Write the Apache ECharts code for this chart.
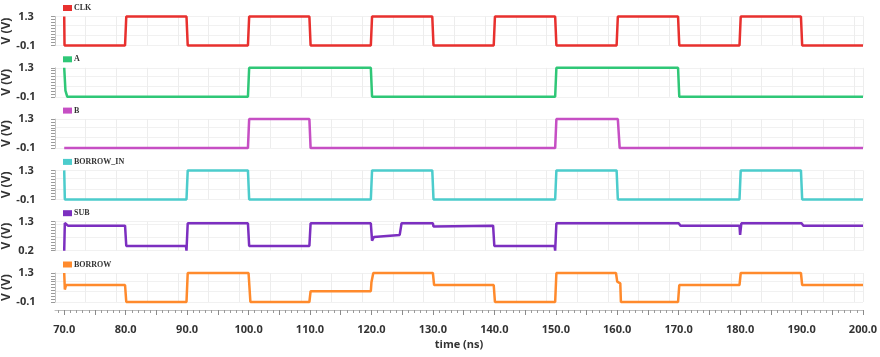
<!DOCTYPE html>
<html><head><meta charset="utf-8">
<script src="https://cdn.jsdelivr.net/npm/echarts@6/dist/echarts.min.js"></script>
<style>html,body{margin:0;padding:0;background:#fff}#c{width:880px;height:357px}</style>
</head><body><div id="c"></div>
<script>
// ---- data ----
const signalNames = ['CLK', 'A', 'B', 'BORROW_IN', 'SUB', 'BORROW'];
const signalColors = ['#e8302e', '#2fc777', '#c64fc4', '#4ccccc', '#7c2fc0', '#ff8a2c'];
const yMins = [-0.1, -0.1, -0.1, -0.1, 0.2, -0.1];
const yMaxs = [1.3, 1.3, 1.3, 1.3, 1.3, 1.3];

const clk = [[70,1.3],[70.05,-0.1],[79.9,-0.1],[80.1,1.3],[89.9,1.3],[90.1,-0.1],[99.9,-0.1],[100.1,1.3],[109.9,1.3],[110.1,-0.1],
  [119.9,-0.1],[120.1,1.3],[129.9,1.3],[130.1,-0.1],[139.9,-0.1],[140.1,1.3],[149.9,1.3],[150.1,-0.1],[159.9,-0.1],[160.1,1.3],
  [169.9,1.3],[170.1,-0.1],[179.9,-0.1],[180.1,1.3],[189.9,1.3],[190.1,-0.1],[200,-0.1]];
const sigA = [[70,1.3],[70.2,0.2],[70.5,-0.1],[99.9,-0.1],[100.1,1.3],[119.9,1.3],[120.1,-0.1],[149.9,-0.1],[150.1,1.3],
  [169.9,1.3],[170.1,-0.1],[200,-0.1]];
const sigB = [[70,-0.1],[99.9,-0.1],[100.1,1.3],[109.9,1.3],[110.1,-0.1],[149.9,-0.1],[150.1,1.3],[160.1,1.3],[160.4,-0.1],[200,-0.1]];
const borrowIn = [[70,1.3],[70.1,-0.1],[89.9,-0.1],[90.1,1.3],[99.9,1.3],[100.1,-0.1],[119.9,-0.1],[120.1,1.3],[129.9,1.3],[130.1,-0.1],
  [149.9,-0.1],[150.1,1.3],[159.9,1.3],[160.1,-0.1],[179.9,-0.1],[180.1,1.3],[189.9,1.3],[190.1,-0.1],[200,-0.1]];
const sub = [[70,0.2],[70.1,1.25],[70.4,1.18],[70.6,1.15],[79.9,1.15],[80.1,0.38],[89.8,0.38],[89.9,0.2],[90.1,1.24],[99.9,1.24],
  [100.1,0.38],[109.9,0.38],[110.1,1.24],[119.9,1.24],[120.1,0.58],[120.4,0.72],[124.6,0.8],[124.9,1.24],[130,1.24],[130.1,1.12],
  [130.3,1.15],[139.8,1.15],[140,0.38],[149.8,0.38],[149.9,0.2],[150.1,1.24],[170,1.24],[170.3,1.15],[179.9,1.15],[180,0.8],
  [180.1,0.8],[180.2,1.24],[190,1.24],[190.3,1.15],[200,1.15]];
const borrow = [[70,1.3],[70.1,0.5],[70.3,0.72],[79.9,0.72],[80.1,-0.1],[89.9,-0.1],[90.1,1.3],[100,1.3],[100.3,-0.1],[109.9,-0.1],
  [110.1,0.42],[119.9,0.42],[120,0.85],[120.2,0.9],[120.3,1.3],[130,1.3],[130.2,0.72],[139.9,0.72],[140.1,-0.1],[149.9,-0.1],
  [150.1,1.3],[159.8,1.3],[160,0.88],[160.5,0.8],[160.6,-0.1],[169.9,-0.1],[170.1,0.72],[179.9,0.72],[180.1,1.3],[189.9,1.3],
  [190.1,0.72],[200,0.72]];
const seriesData = [clk, sigA, sigB, borrowIn, sub, borrow];

const xLabelValues = [70,80,90,100,110,120,130,140,150,160,170,180,190,200];
const xMidTickValues = [70,75,80,85,90,95,100,105,110,115,120,125,130,135,140,145,150,155,160,165,170,175,180,185,190,195,200];
const X_MIN = 68.5, X_MAX = 200;

// ---- layout ----
const PANEL_TOP0 = 16.5, PANEL_STEP = 51.3, PANEL_H = 29;
const fontSans = 'Open Sans';
const grids = [], xAxes = [], yAxes = [], series = [], legends = [];
const minorX = [];
for (let t = 69; t <= 200; t++) minorX.push(t);

signalNames.forEach((name, i) => {
  const top = PANEL_TOP0 + PANEL_STEP * i;
  grids.push({ left: 55, right: 17, top: top, height: PANEL_H, outerBoundsMode: 'none', containLabel: false });
  xAxes.push({
    gridIndex: i, type: 'value', min: X_MIN, max: X_MAX, interval: 5,
    axisLine: { show: false, onZero: false }, axisTick: { show: false }, axisLabel: { show: false },
    splitLine: { show: true, lineStyle: { color: '#ededed', width: 1 } }
  });
  const mn = yMins[i], mx = yMaxs[i];
  const yt = [];
  for (let k = 0; k <= 10; k++) yt.push(+(mn + (mx - mn) * k / 10).toFixed(4));
  yAxes.push({
    gridIndex: i, type: 'value', min: mn, max: mx, position: 'left',
    axisLine: { show: true, onZero: false, lineStyle: { color: '#c4c4c4', width: 1 } },
    axisTick: { show: true, length: 4, customValues: yt, lineStyle: { color: '#9a9a9a' } },
    axisLabel: { customValues: [mn, mx], formatter: v => v.toFixed(1), margin: 29, align: 'center',
      fontWeight: 'bold', fontSize: 11, color: '#333', fontFamily: fontSans },
    splitLine: { show: false },
    name: 'V (V)', nameLocation: 'middle', nameGap: 42, nameMoveOverlap: false,
    nameTextStyle: { fontWeight: 'bold', fontSize: 12, color: '#333', fontFamily: fontSans }
  });
  series.push({
    name: name, type: 'line', xAxisIndex: i, yAxisIndex: i, data: seriesData[i],
    showSymbol: false, symbol: 'none', clip: false, animation: false,
    lineStyle: { width: 2.5, color: signalColors[i] }, itemStyle: { color: signalColors[i] }
  });
  legends.push({
    data: [name], left: 63, top: top - 12.5, itemWidth: 9, itemHeight: 6, icon: 'rect', selectedMode: false,
    padding: 0, textStyle: { fontSize: 8, fontWeight: 'bold', fontFamily: 'Liberation Serif', color: '#333', padding: [0,0,0,-3] }
  });
});
// faint horizontal grid lines
signalNames.forEach((name, i) => {
  yAxes.push({
    gridIndex: i, type: 'value', min: yMins[i], max: yMaxs[i], interval: 0.5, position: 'right',
    axisLine: { show: false, onZero: false }, axisTick: { show: false }, axisLabel: { show: false },
    splitLine: { show: true, lineStyle: { color: '#f1f1f1', width: 1 } }
  });
});
// bottom time axis
xAxes.push({
  gridIndex: 5, type: 'value', min: X_MIN, max: X_MAX, position: 'bottom', offset: 8,
  axisLine: { show: true, onZero: false, lineStyle: { color: '#bdbdbd' } },
  axisTick: { show: true, length: 3, customValues: minorX, lineStyle: { color: '#9a9a9a' } },
  axisLabel: { customValues: xLabelValues, formatter: v => v.toFixed(1), margin: 14,
    fontWeight: 'bold', fontSize: 11, color: '#333', fontFamily: fontSans },
  splitLine: { show: false },
  name: 'time (ns)', nameLocation: 'middle', nameGap: 29, nameMoveOverlap: false,
  nameTextStyle: { fontWeight: 'bold', fontSize: 11, color: '#333', fontFamily: fontSans }
});
xAxes.push({
  gridIndex: 5, type: 'value', min: X_MIN, max: X_MAX, position: 'bottom', offset: 8,
  axisLine: { show: false, onZero: false },
  axisTick: { show: true, length: 5, customValues: xMidTickValues, lineStyle: { color: '#8a8a8a' } },
  axisLabel: { show: false }, splitLine: { show: false }
});

const chart = echarts.init(document.getElementById('c'), null, { renderer: 'canvas' });
chart.setOption({
  animation: false, backgroundColor: '#fff',
  grid: grids, xAxis: xAxes, yAxis: yAxes, series: series, legend: legends
});
</script></body></html>
